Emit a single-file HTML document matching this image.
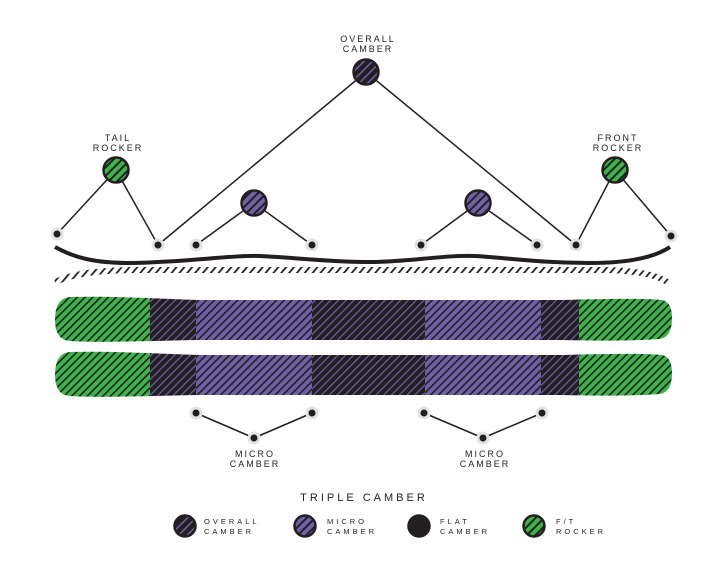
<!DOCTYPE html>
<html><head><style>body{margin:0;background:#fff}svg{display:block}text{font-family:"Liberation Sans",sans-serif;fill:#231f20}</style></head><body>
<svg width="727" height="574" viewBox="0 0 727 574" xmlns="http://www.w3.org/2000/svg">
<defs>
<pattern id="pg" width="5.5" height="9" patternUnits="userSpaceOnUse" patternTransform="rotate(45)"><rect width="5.5" height="9" fill="#3cb44a"/><rect width="1.6" height="9" fill="#231f20"/></pattern>
<pattern id="pp" width="5.5" height="9" patternUnits="userSpaceOnUse" patternTransform="rotate(45)"><rect width="5.5" height="9" fill="#7060a8"/><rect width="1.6" height="9" fill="#231f20"/></pattern>
<pattern id="pd" width="5.5" height="9" patternUnits="userSpaceOnUse" patternTransform="rotate(45)"><rect width="5.5" height="9" fill="#231f20"/><rect width="1.2" height="9" fill="#7060a8"/></pattern>
<pattern id="lg" width="6" height="9" patternUnits="userSpaceOnUse" patternTransform="rotate(45)"><rect width="6" height="9" fill="#3cb44a"/><rect width="2" height="9" fill="#231f20"/></pattern>
<pattern id="lp" width="6" height="9" patternUnits="userSpaceOnUse" patternTransform="rotate(45)"><rect width="6" height="9" fill="#7060a8"/><rect width="2" height="9" fill="#231f20"/></pattern>
<pattern id="ld" width="6" height="9" patternUnits="userSpaceOnUse" patternTransform="rotate(45)"><rect width="6" height="9" fill="#231f20"/><rect width="1.5" height="9" fill="#7060a8"/></pattern>
<pattern id="ph" width="6" height="10" patternUnits="userSpaceOnUse" patternTransform="rotate(40)"><rect width="1.8" height="10" fill="#231f20"/></pattern>
<clipPath id="s1"><path d="M70,297 C110,296 140,298 200,300 L560,300 C600,299 640,298 662,300 Q672,302 672,318 Q672,337 660,339 C630,341 600,341 560,340 L200,340 C140,341 100,343 70,341 Q55,340 55,320 Q55,298 70,297Z"/></clipPath>
<clipPath id="s2"><path d="M70,352 C110,351 140,353 200,355 L560,355 C600,354 640,353 662,355 Q672,357 672,373 Q672,392 660,394 C630,396 600,396 560,395 L200,395 C140,396 100,398 70,396 Q55,395 55,375 Q55,353 70,352Z"/></clipPath>
</defs>
<g stroke="#231f20" stroke-width="1.5">
<line x1="366" y1="72" x2="158" y2="245"/><line x1="366" y1="72" x2="576" y2="245"/>
<line x1="116" y1="170" x2="57" y2="234"/><line x1="116" y1="170" x2="158" y2="245"/>
<line x1="615" y1="170" x2="576" y2="245"/><line x1="615" y1="170" x2="671" y2="236"/>
<line x1="254" y1="203" x2="196" y2="245"/><line x1="254" y1="203" x2="312" y2="245"/>
<line x1="478" y1="203" x2="421" y2="245"/><line x1="478" y1="203" x2="537" y2="245"/>
<line x1="254" y1="438" x2="196" y2="413"/><line x1="254" y1="438" x2="312" y2="413"/>
<line x1="483" y1="438" x2="424" y2="413"/><line x1="483" y1="438" x2="542" y2="413"/>
</g>
<path d="M55,247 C75,258 95,263 130,263 C190,262 230,255 260,256 C300,258 330,262 370,262 C410,262 440,255 475,256 C510,258 540,263 590,263 C630,263 655,257 670,247" fill="none" stroke="#231f20" stroke-width="4"/>
<path d="M55,282 C75,273 100,270 140,270 L600,270 C640,270 660,276 670,284" fill="none" stroke="url(#ph)" stroke-width="6"/>
<g clip-path="url(#s1)">
<rect x="55" y="290" width="95" height="60" fill="url(#pg)"/><rect x="150" y="290" width="46" height="60" fill="url(#pd)"/><rect x="196" y="290" width="116" height="60" fill="url(#pp)"/><rect x="312" y="290" width="113" height="60" fill="url(#pd)"/><rect x="425" y="290" width="116" height="60" fill="url(#pp)"/><rect x="541" y="290" width="38" height="60" fill="url(#pd)"/><rect x="579" y="290" width="95" height="60" fill="url(#pg)"/>
</g>
<g clip-path="url(#s2)">
<rect x="55" y="345" width="95" height="60" fill="url(#pg)"/><rect x="150" y="345" width="46" height="60" fill="url(#pd)"/><rect x="196" y="345" width="116" height="60" fill="url(#pp)"/><rect x="312" y="345" width="113" height="60" fill="url(#pd)"/><rect x="425" y="345" width="116" height="60" fill="url(#pp)"/><rect x="541" y="345" width="38" height="60" fill="url(#pd)"/><rect x="579" y="345" width="95" height="60" fill="url(#pg)"/>
</g>
<g fill="#231f20" stroke="#e2e2e2" stroke-width="3">
<circle cx="57" cy="234" r="5"/><circle cx="158" cy="245" r="5"/><circle cx="196" cy="245" r="5"/><circle cx="312" cy="245" r="5"/><circle cx="421" cy="245" r="5"/><circle cx="537" cy="245" r="5"/><circle cx="576" cy="245" r="5"/><circle cx="671" cy="236" r="5"/>
<circle cx="196" cy="413" r="5"/><circle cx="312" cy="413" r="5"/><circle cx="254" cy="438" r="5"/><circle cx="424" cy="413" r="5"/><circle cx="542" cy="413" r="5"/><circle cx="483" cy="438" r="5"/>
</g>
<g stroke="#231f20" stroke-width="2.5">
<circle cx="366" cy="72" r="12.5" fill="url(#ld)"/>
<circle cx="116" cy="170" r="12.5" fill="url(#lg)"/><circle cx="615" cy="170" r="12.5" fill="url(#lg)"/>
<circle cx="254" cy="203" r="12.5" fill="url(#lp)"/><circle cx="478" cy="203" r="12.5" fill="url(#lp)"/>
<circle cx="185" cy="526" r="10.5" fill="url(#ld)"/><circle cx="305" cy="526" r="10.5" fill="url(#lp)"/><circle cx="419" cy="526" r="10.5" fill="#231f20"/><circle cx="534" cy="526" r="10.5" fill="url(#lg)"/>
</g>
<g font-size="9" letter-spacing="2" text-anchor="middle">
<text x="368" y="42">OVERALL</text><text x="368" y="52">CAMBER</text>
<text x="118" y="141">TAIL</text><text x="118" y="151">ROCKER</text>
<text x="618" y="141">FRONT</text><text x="618" y="151">ROCKER</text>
<text x="255" y="457">MICRO</text><text x="255" y="467">CAMBER</text>
<text x="485" y="457">MICRO</text><text x="485" y="467">CAMBER</text>
</g>
<text x="364" y="501" font-size="11" letter-spacing="3" text-anchor="middle">TRIPLE CAMBER</text>
<g font-size="7.5" letter-spacing="3">
<text x="204" y="524">OVERALL</text><text x="204" y="534">CAMBER</text>
<text x="327" y="524">MICRO</text><text x="327" y="534">CAMBER</text>
<text x="440" y="524">FLAT</text><text x="440" y="534">CAMBER</text>
<text x="556" y="524">F/T</text><text x="556" y="534">ROCKER</text>
</g>
</svg>
</body></html>
